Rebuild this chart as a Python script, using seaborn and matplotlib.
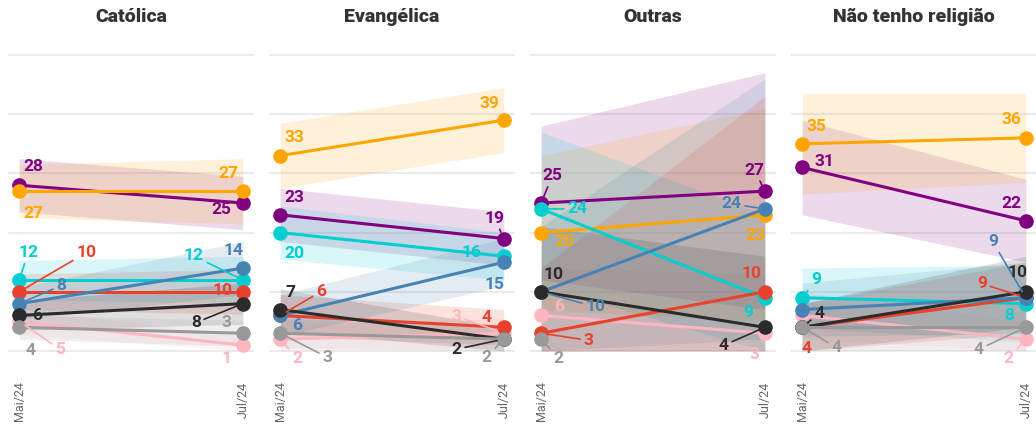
import numpy as np
import pandas as pd
import matplotlib
matplotlib.use("Agg")
import matplotlib.pyplot as plt
import seaborn as sns

# ---------------- data ----------------
panels = ["Católica", "Evangélica", "Outras", "Não tenho religião"]
periods = ["Mai/24", "Jul/24"]
# series drawn in this order (later ones on top)
series = ["rosa", "roxo", "laranja", "ciano", "vermelho", "azul", "preto", "cinza"]
series_colors = ["#ffb6c1", "#800080", "#ffa500", "#00ced1",
                 "#e8412c", "#4682b4", "#2b2b2b", "#999999"]

catolica_mai = [5, 28, 27, 12, 10, 8, 6, 4]
catolica_jul = [1, 25, 27, 12, 10, 14, 8, 3]
evangelica_mai = [2, 23, 33, 20, 6, 6, 7, 3]
evangelica_jul = [3, 19, 39, 16, 4, 15, 2, 2]
outras_mai = [6, 25, 20, 24, 3, 10, 10, 2]
outras_jul = [3, 27, 23, 9, 10, 24, 4, np.nan]
nenhuma_mai = [6, 31, 35, 9, 4, 7, 4, 4]
nenhuma_jul = [2, 22, 36, 8, 9, 9, 10, 4]

# half-width of the uncertainty bands (percentage points)
catolica_moe_mai = [2.2, 4.5, 4.5, 3.3, 3.0, 2.7, 2.4, 2.0]
catolica_moe_jul = [1.5, 4.5, 5.5, 4.0, 3.8, 4.5, 3.5, 2.2]
evangelica_moe_mai = [2.5, 4.5, 5.5, 4.5, 3.5, 3.5, 3.5, 2.5]
evangelica_moe_jul = [2.5, 4.5, 5.5, 4.0, 3.0, 4.0, 2.0, 2.0]
outras_moe_mai = [8, 13, 13, 13, 11, 11, 11, 6]
outras_moe_jul = [10, 20, 18, 14, 33, 22, 12, np.nan]
nenhuma_moe_mai = [4, 8, 8.5, 5, 4, 4.5, 4, 4]
nenhuma_moe_jul = [3, 7, 7.5, 6.5, 6, 6, 6, 4]

values = {
    "Católica": (catolica_mai, catolica_jul, catolica_moe_mai, catolica_moe_jul),
    "Evangélica": (evangelica_mai, evangelica_jul, evangelica_moe_mai, evangelica_moe_jul),
    "Outras": (outras_mai, outras_jul, outras_moe_mai, outras_moe_jul),
    "Não tenho religião": (nenhuma_mai, nenhuma_jul, nenhuma_moe_mai, nenhuma_moe_jul),
}

# ---------------- label layout (pixel offsets from the point: dx, dy-down, leader) ----
N = None
label_layout = {
    "Católica": (
        [(41, 28, 1), (14, -19, 0), (14, 22, 0), (9, -27, 1),
         (67, -39, 1), (42, -18, 1), (18, 0, 0), (11, 23, 0)],
        [(-16, 13, 0), (-22, 7, 0), (-14, -18, 0), (-49, -24, 1),
         (-20, -1, 0), (-9, -18, 0), (-47, 19, 1), (-16, -11, 0)],
    ),
    "Evangélica": (
        [(17, 19, 1), (14, -17, 0), (14, -18, 0), (14, 21, 0),
         (41, -24, 1), (17, 10, 0), (10, -17, 0), (47, 24, 1)],
        [(-47, -17, 1), (-9, -20, 1), (-14, -17, 0), (-32, -4, 1),
         (-17, -10, 0), (-9, 22, 0), (-47, 10, 1), (-17, 18, 1)],
    ),
    "Outras": (
        [(18, -9, 0), (11, -27, 1), (23, 9, 0), (36, 0, 1),
         (47, 7, 1), (54, 15, 1), (12, -17, 0), (17, 19, 1)],
        [(-10, 21, 0), (-10, -21, 1), (-10, 21, 0), (-17, 15, 0),
         (-13, -18, 0), (-33, -5, 1), (-41, 18, 1), N],
    ),
    "Não tenho religião": (
        [N, (22, -6, 0), (14, -17, 0), (14, -18, 1),
         (4, 21, 0), N, (17, -14, 1), (34, 20, 1)],
        [(-17, 19, 1), (-14, -17, 0), (-14, -18, 0), (-17, 12, 0),
         (-44, -14, 1), (-33, -56, 1), (-8, -19, 0), (-47, 22, 1)],
    ),
}

# ---------------- style ----------------
sns.set_theme(style="white")
plt.rcParams["font.family"] = ["Roboto", "DejaVu Sans"]
palette = dict(zip(series, series_colors))

W, H = 1036, 424
fig = plt.figure(figsize=(W / 100, H / 100), dpi=100)

ax_left_px = [8, 269, 530, 791]
ax_w_px = 246
ax_top_px, ax_bot_px = 40, 369
px_per_unit = 5.92
y_lo = -(ax_bot_px - 351) / px_per_unit
y_hi = 50 + (55 - ax_top_px) / px_per_unit

for p_i, panel in enumerate(panels):
    ax = fig.add_axes([ax_left_px[p_i] / W, (H - ax_bot_px) / H,
                       ax_w_px / W, (ax_bot_px - ax_top_px) / H])
    mai, jul, moe_mai, moe_jul = values[panel]

    rows = []
    for s, a, b in zip(series, mai, jul):
        rows.append({"serie": s, "x": 0, "valor": a})
        rows.append({"serie": s, "x": 1, "valor": b})
    df = pd.DataFrame(rows).dropna()

    # bands
    for s, a, b, ma, mb in zip(series, mai, jul, moe_mai, moe_jul):
        if np.isnan(b):
            continue
        lo = [max(a - ma, 0), max(b - mb, 0)]
        hi = [a + ma, b + mb]
        ax.fill_between([0, 1], lo, hi, color=palette[s], alpha=0.15,
                        linewidth=0, zorder=1)

    sns.lineplot(data=df, x="x", y="valor", hue="serie", hue_order=series,
                 palette=palette, marker="o", markersize=10.5, markeredgewidth=0,
                 linewidth=2.2, legend=False, errorbar=None, ax=ax, zorder=3)

    # labels
    lay_mai, lay_jul = label_layout[panel]
    for t_i, (vals, lay) in enumerate(((mai, lay_mai), (jul, lay_jul))):
        for s, v, l in zip(series, vals, lay):
            if l is None or np.isnan(v):
                continue
            dx, dy, leader = l
            c = palette[s]
            ap = dict(arrowstyle="-", color=c, lw=1.2, shrinkA=0, shrinkB=5) if leader else None
            ax.annotate(f"{int(v)}", xy=(t_i, v), xytext=(dx, -dy),
                        textcoords="offset pixels", ha="center", va="center",
                        fontsize=12.5, fontweight="bold", color=c,
                        arrowprops=ap, zorder=5, annotation_clip=False)

    ax.set_xlim(-0.05, 1.05)
    ax.set_ylim(y_lo, y_hi)
    ax.set_yticks([0, 10, 20, 30, 40, 50])
    ax.set_xticks([0, 1])
    ax.set_xticklabels(periods, rotation=90, fontsize=9, color="#666666")
    ax.tick_params(axis="x", length=0, pad=9)
    ax.tick_params(axis="y", length=0, labelleft=False)
    ax.grid(axis="y", color="#ebebeb", linewidth=1.5)
    ax.grid(axis="x", visible=False)
    ax.set_axisbelow(True)
    ax.set_xlabel("")
    ax.set_ylabel("")
    for sp in ax.spines.values():
        sp.set_visible(False)
    ax.patch.set_alpha(0)

    fig.text((ax_left_px[p_i] + ax_w_px / 2) / W, 1 - 17 / H, panel,
             ha="center", va="center", fontsize=14, fontweight=900,
             color="#333333")

fig.savefig("out.png", dpi=100)
